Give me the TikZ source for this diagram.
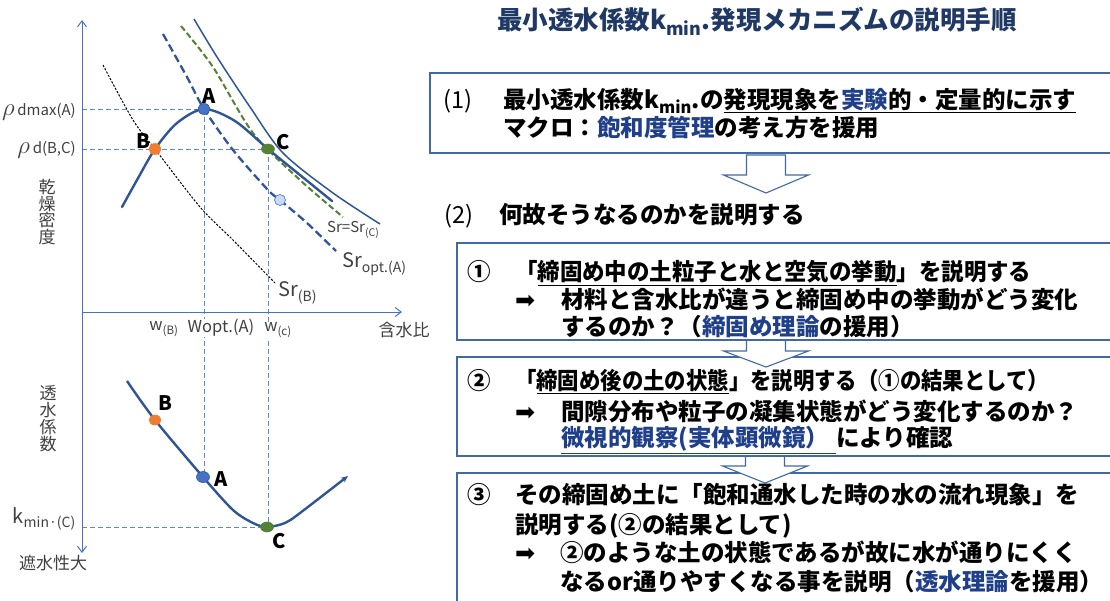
\documentclass[tikz,border=0pt]{standalone}
\usepackage{fontspec}
\usepackage{graphicx}
\setmainfont{Noto Sans CJK JP}
\newfontfamily\arrowfont{DejaVu Sans}
\usetikzlibrary{arrows.meta,shapes.geometric}
\definecolor{axisblue}{HTML}{4472C4}
\definecolor{curveblue}{HTML}{2F5597}
\definecolor{boxblue}{HTML}{4169A8}
\definecolor{titlenavy}{HTML}{1F3864}
\definecolor{wordblue}{HTML}{1F3F8A}
\definecolor{labgray}{HTML}{404040}
\definecolor{ptorange}{HTML}{ED7D31}
\definecolor{ptgreen}{HTML}{548235}
\definecolor{ptlight}{HTML}{C9DAF2}
\newcommand{\bw}[1]{\textcolor{wordblue}{#1}}
\begin{document}
\begin{tikzpicture}[x=1pt,y=-1pt,
  boxnode/.style={draw=boxblue, line width=1.2pt, inner sep=0pt, outer sep=0pt, anchor=north west},
  txt/.style={anchor=base west, inner sep=0pt, font=\fontsize{23.5}{28}\selectfont\bfseries},
  numtxt/.style={anchor=base west, inner sep=0pt, font=\fontsize{23.5}{28}\selectfont},
  arrtxt/.style={anchor=base west, inner sep=0pt, font=\arrowfont\fontsize{24}{28}\selectfont},
  blockarr/.style={draw=boxblue, line width=1.1pt, line join=miter},
  glab/.style={text=labgray, inner sep=1pt, font=\fontsize{16.5}{19}\selectfont},
  ptlab/.style={inner sep=0pt, font=\fontsize{20}{22}\selectfont\bfseries},
  guide/.style={draw=axisblue!85, dash pattern=on 5pt off 3pt, line width=0.9pt},
  curve/.style={draw=curveblue, line width=2.4pt, line cap=round},
  pt/.style={ellipse, inner sep=0pt, line width=0.6pt}
]
\useasboundingbox (0,0) rectangle (1110,600);
\clip (0,0) rectangle (1110,600);

%% ---------------- left graph ----------------
% guides
\coordinate (gA0) at (82,109);
\coordinate (gBC0) at (82,149);
\coordinate (gK0) at (82,527);
\draw[guide] (gA0) -- (204,109);
\draw[guide] (gBC0) -- (268,149);
\draw[guide] (204,109) -- (204,477);
\draw[guide] (268,149) -- (268,527);
\draw[guide] (gK0) -- (268,527);

% axes
\coordinate (ytop) at (82,20);
\coordinate (ybot) at (82,553);
\coordinate (xl) at (82,312);
\coordinate (xr) at (402,312);
\draw[axisblue, line width=1pt, {Straight Barb[length=6pt,width=9pt]}-{Straight Barb[length=6pt,width=9pt]}] (ybot) -- (ytop);
\draw[axisblue, line width=1pt, -{Straight Barb[length=6pt,width=9pt]}] (xl) -- (xr);

% curves
\draw[draw=black, line width=1pt, dash pattern=on 2.2pt off 1.5pt]
  plot[smooth] coordinates {(103,65) (133,120) (155,149) (200,207) (233,240) (275,283)};
\draw[draw=curveblue, line width=2.3pt, dash pattern=on 8pt off 4pt]
  plot[smooth] coordinates {(163,34) (187,77) (204,109) (233,150) (268,190) (280,200) (307,223) (336,251)};
\draw[draw=ptgreen, line width=2pt, dash pattern=on 6pt off 3pt]
  plot[smooth] coordinates {(181,26) (213,67) (253,133) (300,180) (343,217)};
\draw[draw=curveblue, line width=1.5pt]
  plot[smooth] coordinates {(194,19) (217,57) (250,107) (283,153) (333,193) (380,224)};
\draw[curve]
  plot[smooth] coordinates {(122,207) (137,180) (155,149) (177,123) (204,109) (235,121) (268,149) (300,175) (332,201)};

% bottom curve
\draw[curve, line cap=butt, -{Stealth[length=7pt,width=6pt]}]
  plot[smooth] coordinates {(127,381) (155,420) (203,477) (233,510) (253,523) (267,527) (285,523) (300,513) (348,476)};

% points
\node[pt, fill=axisblue, draw=curveblue, minimum width=12pt, minimum height=11pt] (pA) at (204,109) {};
\node[pt, fill=ptorange, draw=ptorange, minimum width=12pt, minimum height=11pt] (pB) at (155,149) {};
\node[pt, fill=ptgreen, draw=ptgreen, minimum width=13pt, minimum height=10pt] (pC) at (268,149) {};
\node[pt, fill=ptlight, draw=axisblue, minimum width=11pt, minimum height=11pt] (pL) at (280,200) {};
\node[pt, fill=ptorange, draw=ptorange, minimum width=12pt, minimum height=10pt] (qB) at (155,420) {};
\node[pt, fill=axisblue, draw=curveblue, minimum width=13pt, minimum height=11pt] (qA) at (203,477) {};
\node[pt, fill=ptgreen, draw=ptgreen, minimum width=13pt, minimum height=10pt] (qC) at (267,527) {};

\node[ptlab] (lA) at (209,96) {A};
\node[ptlab] (lB) at (143,141) {B};
\node[ptlab] (lC) at (283,142) {C};
\node[ptlab] (mB) at (165,403) {B};
\node[ptlab] (mA) at (221,479) {A};
\node[ptlab] (mC) at (279,541) {C};

% axis labels
\node[glab, anchor=east] (rho1) at (77,112) {{\fontsize{25}{26}\selectfont$\rho$}\,{\fontsize{15}{17}\selectfont dmax(A)}};
\node[glab, anchor=east] (rho2) at (77,150) {{\fontsize{25}{26}\selectfont$\rho$}\,{\fontsize{15}{17}\selectfont d(B,C)}};
\node[glab] (wB) at (164,329) {w\textsubscript{(B)}};
\node[glab, fill=white, inner sep=0.5pt] (wopt) at (221,328) {Wopt.(A)};
\node[glab, fill=white, inner sep=0.5pt] (wC) at (278,330) {w\textsubscript{(c)}};
\node[glab, font=\fontsize{17}{19}\selectfont] (gansui) at (404,330) {含水比};
\node[glab, anchor=west, font=\fontsize{20}{22}\selectfont] (srB) at (277,293) {Sr\textsubscript{(B)}};
\node[glab, anchor=west, font=\fontsize{20}{22}\selectfont] (sropt) at (341,264) {Sr\textsubscript{opt.(A)}};
\node[glab, anchor=west, font=\fontsize{15}{17}\selectfont] (srC) at (326,230) {Sr=Sr\textsubscript{(C)}};
\node[glab, align=center, font=\fontsize{17}{16.5}\selectfont] (ylab1) at (47,212) {乾\\燥\\密\\度};
\node[glab, align=center, font=\fontsize{17}{17}\selectfont] (ylab2) at (48,419) {透\\水\\係\\数};
\node[glab, anchor=east, font=\fontsize{20}{22}\selectfont] (kmin) at (77,519) {k\textsubscript{min·(C)}};
\node[glab, font=\fontsize{17}{19}\selectfont] (shasui) at (53,563) {遮水性大};

%% ---------------- right side ----------------
\node[anchor=base west, inner sep=0pt, text=titlenavy, font=\fontsize{25.5}{30}\selectfont\bfseries] (title) at (497,29)
  {最小透水係数k\textsubscript{min}.発現メカニズムの説明手順};

% boxes
\node[boxnode, minimum width=690pt, minimum height=80pt] (box1) at (430,73) {};
\node[boxnode, minimum width=670pt, minimum height=97pt] (boxA) at (457,243) {};
\node[boxnode, minimum width=670pt, minimum height=99pt] (boxB) at (457,357) {};
\node[boxnode, minimum width=670pt, minimum height=140pt] (boxC) at (457,473) {};

% block arrows
\coordinate (ar1) at (766,155);
\filldraw[blockarr, fill=white] (ar1) ++(-19.5,0) -- ++(0,20) -- ++(-23,0) -- ++(42.5,18) -- ++(42.5,-18) -- ++(-23,0) -- ++(0,-20) -- cycle;
\coordinate (ar2) at (766,341);
\fill[white] (ar2) ++(-19.5,0) -- ++(0,10) -- ++(-23,0) -- ++(42.5,16) -- ++(42.5,-16) -- ++(-23,0) -- ++(0,-10) -- cycle;
\draw[blockarr] (ar2) ++(-19.5,-1) -- ++(0,11) -- ++(-23,0) -- ++(42.5,16) -- ++(42.5,-16) -- ++(-23,0) -- ++(0,-11);
\coordinate (ar3) at (765,457);
\fill[white] (ar3) ++(-19.5,0) -- ++(0,9) -- ++(-23,0) -- ++(42.5,17) -- ++(42.5,-17) -- ++(-23,0) -- ++(0,-9) -- cycle;
\draw[blockarr] (ar3) ++(-19.5,-1) -- ++(0,10) -- ++(-23,0) -- ++(42.5,17) -- ++(42.5,-17) -- ++(-23,0) -- ++(0,-10);

% box (1)
\node[numtxt] (n1) at (443,108.6) {(1)};
\node[txt] (t11) at (503,108.6) {最小透水係数k\textsubscript{min}.の\underline{発現現象を\bw{実験}的・定量的に示す}};
\node[txt] (t12) at (503,136.6) {マクロ：\bw{飽和度管理}の考え方を援用};

% (2)
\node[numtxt] (n2) at (444,223.6) {(2)};
\node[txt] (t2) at (499,223.6) {何故そうなるのかを説明する};

% box 1
\node[txt] (nA) at (467,280.6) {①};
\node[txt] (tA1) at (515,280.6) {\scalebox{0.955}[1]{「\underline{締固め中の土粒子と水と空気の挙動}」を説明する}};
\node[arrtxt] (aA) at (515,308.6) {➡};
\node[txt] (tA2) at (561,308.6) {材料と含水比が違うと締固め中の挙動がどう変化};
\node[txt] (tA3) at (561,335.6) {するのか？（\bw{締固め理論}の援用）};

% box 2
\node[txt] (nB) at (467,389.6) {②};
\node[txt] (tB1) at (515,389.6) {\scalebox{0.91}[1]{「\underline{締固め後の土の状態}」を説明する（①の結果として）}};
\node[arrtxt] (aB) at (515,420.6) {➡};
\node[txt] (tB2) at (561,420.6) {間隙分布や粒子の凝集状態がどう変化するのか？};
\node[txt] (tB3) at (561,446.6) {\textcolor{wordblue}{\underline{微視的観察(実体顕微鏡）\hspace{0.3em}}}により確認};

% box 3
\node[txt] (nC) at (467,503.6) {③};
\node[txt] (tC1) at (515,503.6) {その締固め土に「飽和通水した時の水の流れ現象」を};
\node[txt] (tC2) at (515,533.6) {説明する(②の結果として)};
\node[arrtxt] (aC) at (515,561.6) {➡};
\node[txt] (tC3) at (560,561.6) {②のような土の状態であるが故に水が通りにくく};
\node[txt] (tC4) at (560,590.6) {なるor通りやすくなる事を説明（\bw{透水理論}を援用）};
\end{tikzpicture}
\end{document}
